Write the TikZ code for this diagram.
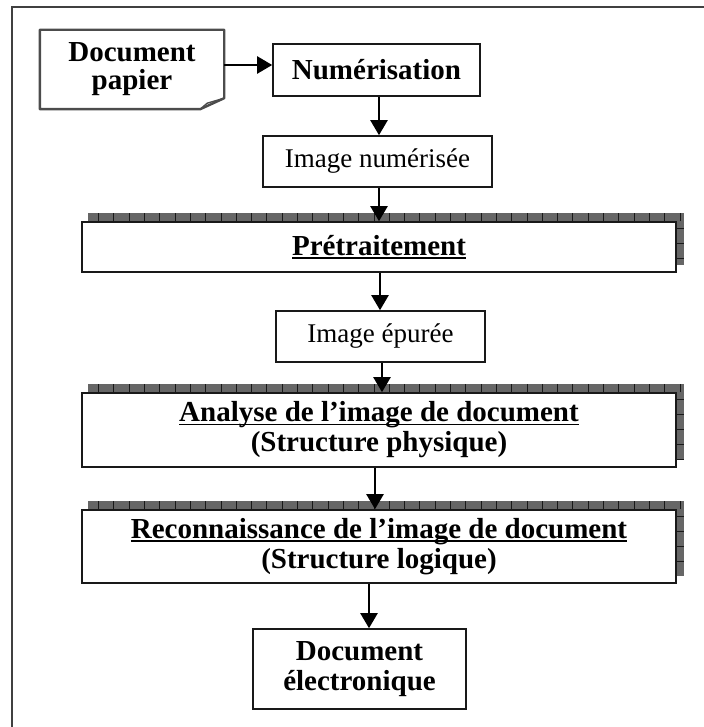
\documentclass[tikz,border=0pt]{standalone}
\usepackage{fontspec}
\setmainfont{Liberation Serif}
\usetikzlibrary{arrows.meta,backgrounds}

% underline that sits just below the baseline and crosses descenders
\newcommand\ulline[1]{\setbox0\hbox{#1}\rlap{\rule[-3.2pt]{\wd0}{1.5pt}}\box0}

% tiled drop shadow, offset up and to the right of a box
\newcommand\tileshadow[1]{%
  \begin{scope}
    \path[clip] ([shift={(7pt,8pt)}]#1.north west) rectangle ([shift={(7pt,8pt)}]#1.south east);
    \fill[shadowfill] ([shift={(7pt,8pt)}]#1.north west) rectangle ([shift={(7pt,8pt)}]#1.south east);
    \foreach \i in {0,...,39}
      \draw[tick] ([xshift=2pt+\i*15.3pt]#1.north west) -- ++(0,8pt);
    \foreach \j in {1,...,5}
      \draw[tick] ([yshift=8pt-\j*15pt]#1.north east) -- ++(7pt,0);
  \end{scope}}

\begin{document}
\begin{tikzpicture}[x=1pt,y=1pt,
  box/.style={draw=black!90, line width=1.6pt, fill=white, inner sep=0pt, align=center},
  boldtext/.style={font=\bfseries\fontsize{29}{30}\selectfont},
  plaintext/.style={font=\fontsize{27}{30}\selectfont},
  arr/.style={draw=black, line width=2.2pt, -{Triangle[length=15pt,width=17pt]}},
  frame/.style={draw=black!75, line width=1.5pt},
  paperline/.style={draw=black!70, line width=2.4pt, line join=round},
  shadowfill/.style={fill=black!60},
  tick/.style={draw=black!90, line width=0.8pt}
]
\useasboundingbox (0,0) rectangle (703,-727);

% outer frame
\draw[frame] (12,-730) -- (12,-7) -- (706,-7);

% paper document with folded corner
\node[boldtext, inner sep=0pt, minimum width=184pt, minimum height=79pt, align=center]
  (paper) at (132,-69.5) {Document\\[-2pt]papier};
\draw[paperline] (paper.north west) -- (paper.north east)
  -- ([yshift=11pt]paper.south east) -- ([xshift=-24pt]paper.south east)
  -- (paper.south west) -- cycle;
\draw[paperline, line width=1.4pt] ([yshift=11pt]paper.south east)
  -- ([xshift=-17pt,yshift=6pt]paper.south east) -- ([xshift=-24pt]paper.south east);

% process chain
\node[box, boldtext, minimum width=207pt, minimum height=52pt] (scan) at (376.5,-70) {Numérisation};
\node[box, plaintext, minimum width=229pt, minimum height=51pt] (scanned) at (377.5,-161.5) {Image numérisée};
\node[box, boldtext, minimum width=594pt, minimum height=50pt] (pre) at (379,-247) {\ulline{Prétraitement}};
\node[box, plaintext, minimum width=209pt, minimum height=51pt] (clean) at (380.5,-336.5) {Image épurée};
\node[box, boldtext, minimum width=594pt, minimum height=74pt] (phys) at (379,-430)
  {\ulline{Analyse de l’image de document}\\(Structure physique)};
\node[box, boldtext, minimum width=594pt, minimum height=73pt] (logic) at (379,-546.5)
  {\ulline{Reconnaissance de l’image de document}\\(Structure logique)};
\node[box, boldtext, minimum width=213pt, minimum height=80pt] (elec) at (359.5,-669)
  {Document\\électronique};

\begin{scope}[on background layer]
  \tileshadow{pre}
  \tileshadow{phys}
  \tileshadow{logic}
\end{scope}

% connectors
\draw[arr] ([yshift=4.5pt]paper.east) -- ([yshift=4.5pt]paper.east -| scan.west);
\draw[arr] ([xshift=2.5pt]scan.south) -- ([xshift=2.5pt]scan.south |- scanned.north);
\draw[arr] ([xshift=1.5pt]scanned.south) -- ([xshift=1.5pt]scanned.south |- pre.north);
\draw[arr] ([xshift=1pt]pre.south) -- ([xshift=1pt]pre.south |- clean.north);
\draw[arr] ([xshift=1.5pt]clean.south) -- ([xshift=1.5pt]clean.south |- phys.north);
\draw[arr] ([xshift=-4pt]phys.south) -- ([xshift=-4pt]phys.south |- logic.north);
\draw[arr] ([xshift=9.5pt]elec.north |- logic.south) -- ([xshift=9.5pt]elec.north);
\end{tikzpicture}
\end{document}
